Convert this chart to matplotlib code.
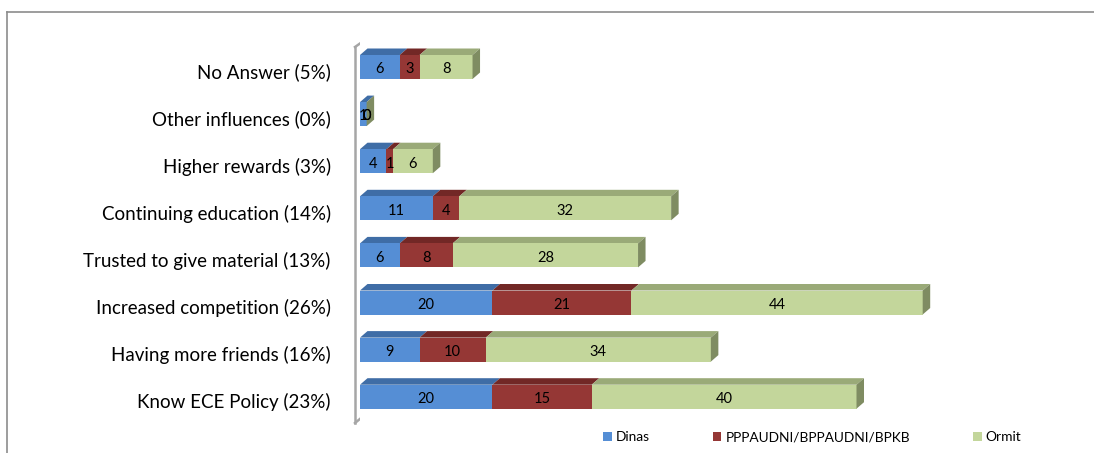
import numpy as np
import matplotlib.pyplot as plt
from matplotlib.patches import Rectangle, Polygon
from matplotlib.lines import Line2D
from matplotlib.transforms import ScaledTranslation

categories = ["No Answer (5%)", "Other influences (0%)", "Higher rewards (3%)",
              "Continuing education (14%)", "Trusted to give material (13%)",
              "Increased competition (26%)", "Having more friends (16%)",
              "Know ECE Policy (23%)"]
dinas = [6, 1, 4, 11, 6, 20, 9, 20]
pppaudni = [3, 0, 1, 4, 8, 21, 10, 15]
ormit = [8, 0, 6, 32, 28, 44, 34, 40]
series_names = ["Dinas", "PPPAUDNI/BPPAUDNI/BPKB", "Ormit"]

face = ["#558ED5", "#953735", "#C3D69B"]
top = ["#3F6DA6", "#722826", "#9AAA78"]
side = ["#3A6392", "#6A2423", "#7F8C62"]

plt.rcParams['font.family'] = ['Lato', 'DejaVu Sans']

W, H = 1094, 453
fig = plt.figure(figsize=(W / 100, H / 100), dpi=100)

# axes mapped roughly to pixels: x0 at 360px, 6.62 px per unit
px_unit = 6.62
x_left, x_right = 360, 1060
y_top, y_bot = 30, 425
c0, step = 67, 47.1
ax = fig.add_axes([x_left / W, 1 - y_bot / H, (x_right - x_left) / W, (y_bot - y_top) / H])
ax.set_xlim(0, (x_right - x_left) / px_unit)
ax.set_ylim((y_bot - c0) / step, (y_top - c0) / step)

h = 24 / step
dx = 7.5 / px_unit
dy = 6.5 / step

data = [dinas, pppaudni, ormit]
for k in range(len(categories)):
    left = 0
    for s in range(3):
        w = data[s][k]
        y0 = k - h / 2
        ax.add_patch(Polygon([(left, y0), (left + w, y0), (left + w + dx, y0 - dy),
                              (left + dx, y0 - dy)], closed=True, fc=top[s], ec="none"))
        ax.add_patch(Rectangle((left, y0), w, h, fc=face[s], ec="none"))
        ax.text(left + w / 2, k + 0.05, str(w), ha="center", va="center", fontsize=10.5, color="black")
        left += w
    y0 = k - h / 2
    ax.add_patch(Polygon([(left, y0), (left + dx, y0 - dy), (left + dx, y0 + h - dy),
                          (left, y0 + h)], closed=True, fc=side[2], ec="none"))

ax.set_yticks(range(len(categories)))
ax.set_yticklabels(categories, fontsize=13.5)
ax.tick_params(axis="y", length=0, pad=21)
shift = ScaledTranslation(0, -4 / 100, fig.dpi_scale_trans)
for lab in ax.get_yticklabels():
    lab.set_transform(lab.get_transform() + shift)
ax.set_xticks([])
for sp in ax.spines.values():
    sp.set_visible(False)

# 3d wall at the left
wall = dict(color="#A6A6A6", lw=1.8, transform=fig.transFigure)
def fx(p):
    return p / W
def fy(p):
    return 1 - p / H
fig.add_artist(Line2D([fx(355), fx(355)], [fy(47), fy(423)], **wall, zorder=0))
fig.add_artist(Line2D([fx(355), fx(372)], [fy(47), fy(35)], **wall, zorder=0))
fig.add_artist(Line2D([fx(372), fx(372)], [fy(35), fy(409)], **wall, zorder=0))
fig.add_artist(Line2D([fx(355), fx(372)], [fy(423), fy(409)], **wall, zorder=0))

# outer frame (top and left visible)
frame = dict(color="#8C8C8C", lw=1.2, transform=fig.transFigure)
fig.add_artist(Line2D([fx(7), fx(W)], [fy(12), fy(12)], **frame))
fig.add_artist(Line2D([fx(7), fx(7)], [fy(12), fy(H)], **frame))

handles = [Rectangle((0, 0), 1, 1, fc=c, ec="none") for c in face]
fig.legend(handles, series_names, loc="center left", bbox_to_anchor=(591 / W, fy(437)),
           ncol=3, frameon=False, fontsize=9.9, handlelength=0.6, handleheight=0.6,
           handletextpad=0.3, columnspacing=4.6)

fig.savefig("out.png", dpi=100)
